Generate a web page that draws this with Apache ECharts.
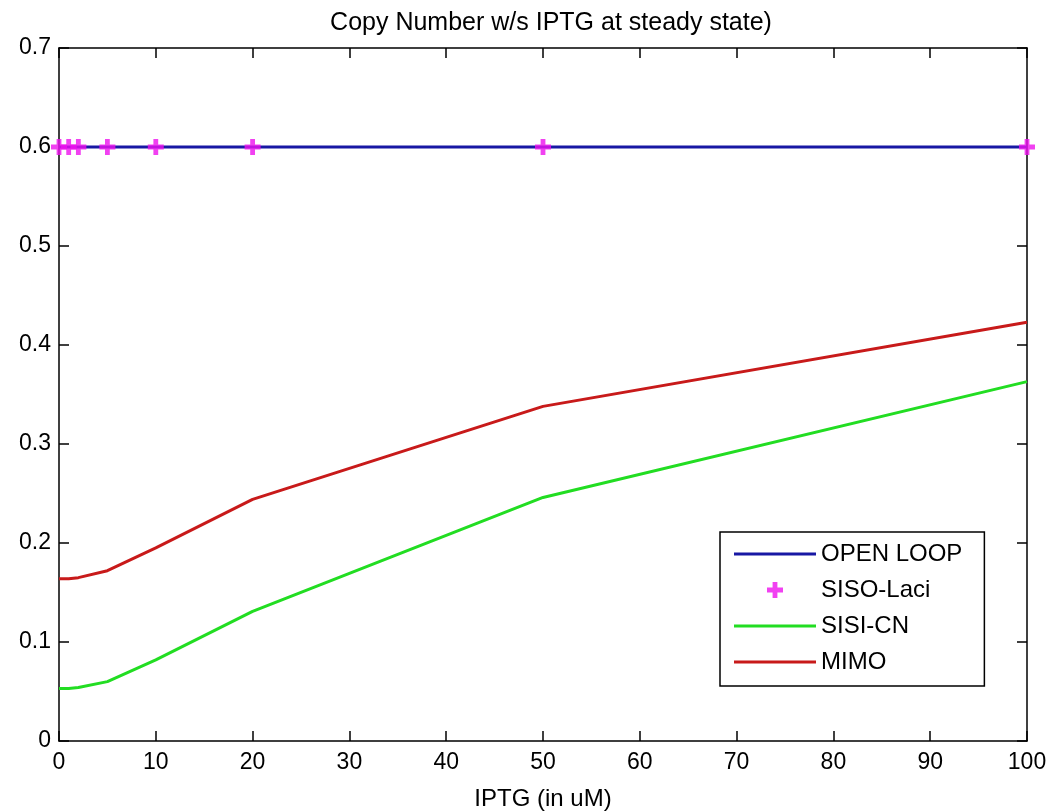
<!DOCTYPE html>
<html>
<head>
<meta charset="utf-8">
<script src="https://cdn.jsdelivr.net/npm/echarts@6/dist/echarts.min.js"></script>
<style>html,body{margin:0;padding:0;background:#fff}#c{width:1050px;height:812px}</style>
</head>
<body>
<div id="c"></div>
<script>
var iptg = [0, 1, 2, 5, 10, 20, 50, 100];
var openLoop = [0.6, 0.6, 0.6, 0.6, 0.6, 0.6, 0.6, 0.6];
var sisoLaci = [0.6, 0.6, 0.6, 0.6, 0.6, 0.6, 0.6, 0.6];
var sisiCN = [0.053, 0.053, 0.054, 0.060, 0.082, 0.131, 0.246, 0.363];
var mimo = [0.164, 0.164, 0.165, 0.172, 0.195, 0.244, 0.338, 0.423];
var xTicks = [0, 10, 20, 30, 40, 50, 60, 70, 80, 90, 100];
var yTicks = [0, 0.1, 0.2, 0.3, 0.4, 0.5, 0.6, 0.7];

function pairs(xs, ys) { return xs.map(function (x, i) { return [x, ys[i]]; }); }

var FONT = '"Liberation Sans", Arial, sans-serif';
var FS = 23;
var plus = 'path://M3.5,0 H6.5 V3.5 H10 V6.5 H6.5 V10 H3.5 V6.5 H0 V3.5 H3.5 Z';
var lineIcon = 'path://M0,0 h0.01 v0.01 h-0.01 Z M0,6.5 H82 V9.5 H0 Z M81.99,15.99 h0.01 v0.01 h-0.01 Z';

var chart = echarts.init(document.getElementById('c'));
var axisLine = { show: true, onZero: false, lineStyle: { color: '#000', width: 1.5 } };
var tickIn = { show: true, inside: true, length: 10, lineStyle: { color: '#000', width: 1.5 } };
chart.setOption({
  animation: false,
  backgroundColor: '#fff',
  title: {
    text: 'Copy Number w/s IPTG at steady state)',
    left: 546, top: 6, textAlign: 'center',
    textStyle: { fontFamily: FONT, fontSize: 25, fontWeight: 'normal', color: '#000' }
  },
  grid: { left: 59, right: 23, top: 48, bottom: 71, containLabel: false, outerBoundsMode: 'none' },
  legend: {
    orient: 'vertical',
    left: 720, top: 532,
    width: 265,
    padding: [10, 22, 12, 14],
    itemWidth: 82, itemHeight: 16, itemGap: 12,
    borderColor: '#000', borderWidth: 1.5, backgroundColor: '#fff',
    textStyle: { fontFamily: FONT, fontSize: 24, color: '#000' },
    data: [
      { name: 'OPEN LOOP', icon: lineIcon },
      { name: 'SISO-Laci' },
      { name: 'SISI-CN', icon: lineIcon },
      { name: 'MIMO', icon: lineIcon }
    ]
  },
  xAxis: [{
    type: 'value', min: 0, max: 100, interval: 10,
    name: 'IPTG (in uM)', nameLocation: 'middle', nameGap: 46,
    nameTextStyle: { fontFamily: FONT, fontSize: 24, color: '#000' },
    axisLine: axisLine, axisTick: tickIn, splitLine: { show: false },
    axisLabel: { fontFamily: FONT, fontSize: FS, color: '#000', margin: 10 }
  }, {
    type: 'value', min: 0, max: 100, interval: 10, position: 'top',
    axisLine: axisLine, axisTick: tickIn, splitLine: { show: false },
    axisLabel: { show: false }
  }],
  yAxis: [{
    type: 'value', min: 0, max: 0.7, interval: 0.1,
    axisLine: axisLine, axisTick: tickIn, splitLine: { show: false },
    axisLabel: { fontFamily: FONT, fontSize: FS, color: '#000', margin: 8,
      formatter: function (v) { return v === 0 ? '0' : v.toFixed(1); } }
  }, {
    type: 'value', min: 0, max: 0.7, interval: 0.1, position: 'right',
    axisLine: axisLine, axisTick: tickIn, splitLine: { show: false },
    axisLabel: { show: false }
  }],
  series: [
    { name: 'OPEN LOOP', type: 'line', data: pairs(iptg, openLoop), symbol: 'none',
      lineStyle: { color: '#1818a4', width: 3 }, itemStyle: { color: '#1818a4' }, z: 2 },
    { name: 'SISO-Laci', type: 'scatter', data: pairs(iptg, sisoLaci), symbol: plus, symbolSize: 16,
      itemStyle: { color: '#ee11ee' }, z: 3 },
    { name: 'SISI-CN', type: 'line', data: pairs(iptg, sisiCN), symbol: 'none',
      lineStyle: { color: '#22dd22', width: 3 }, itemStyle: { color: '#22dd22' } },
    { name: 'MIMO', type: 'line', data: pairs(iptg, mimo), symbol: 'none',
      lineStyle: { color: '#c81a1a', width: 3 }, itemStyle: { color: '#c81a1a' } }
  ]
});
</script>
</body>
</html>
